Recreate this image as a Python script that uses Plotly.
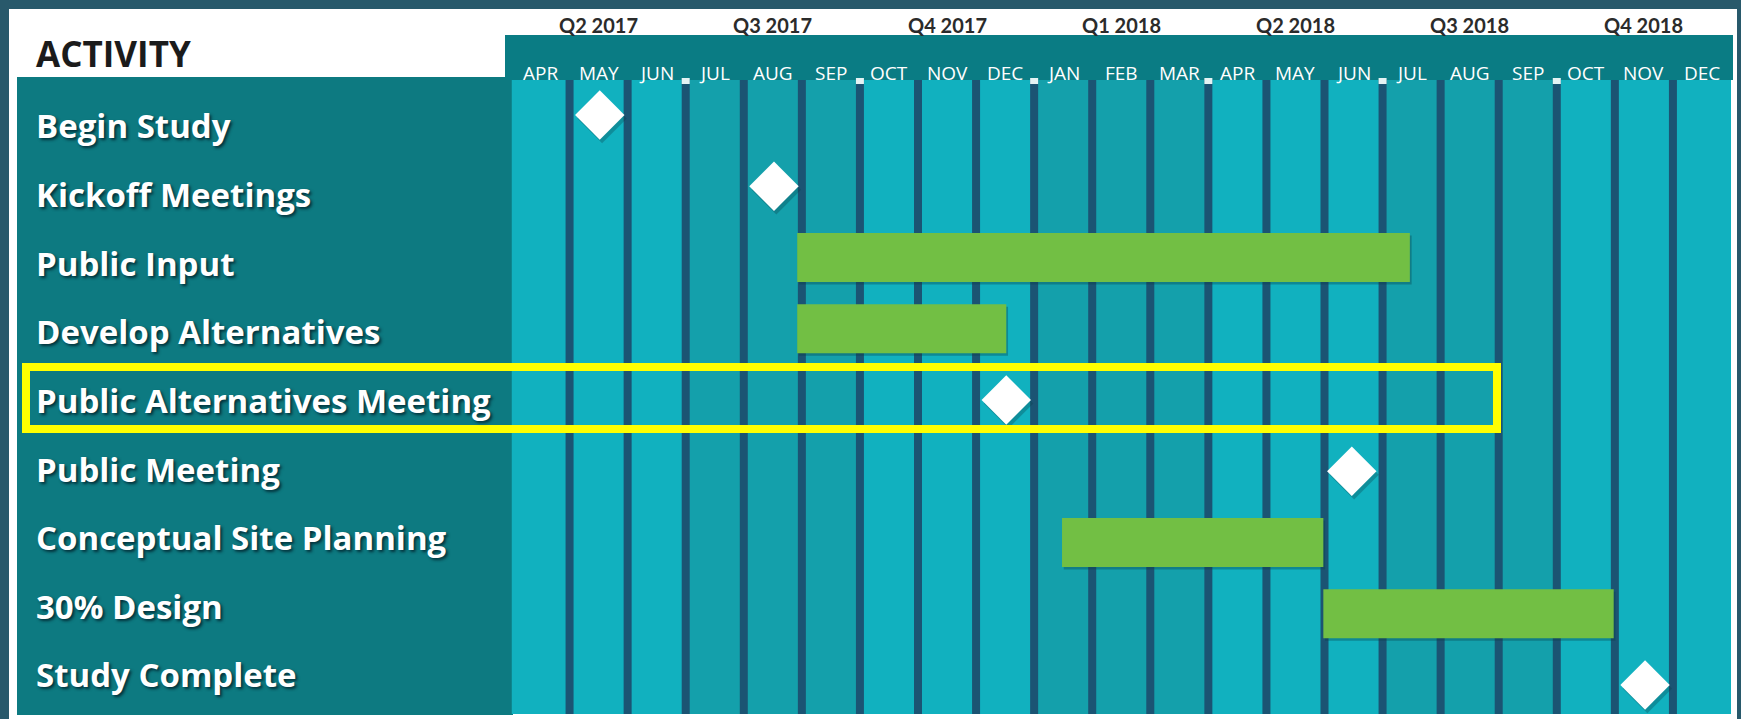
import plotly.graph_objects as go

# ---------------- data ----------------
activities = ["Begin Study", "Kickoff Meetings", "Public Input", "Develop Alternatives",
              "Public Alternatives Meeting", "Public Meeting", "Conceptual Site Planning",
              "30% Design", "Study Complete"]

# months counted from start of APR 2017 (0) to end of DEC 2018 (21)
month_labels = ["APR", "MAY", "JUN", "JUL", "AUG", "SEP", "OCT", "NOV", "DEC", "JAN", "FEB",
                "MAR", "APR", "MAY", "JUN", "JUL", "AUG", "SEP", "OCT", "NOV", "DEC"]
quarter_labels = ["Q2 2017", "Q3 2017", "Q4 2017", "Q1 2018", "Q2 2018", "Q3 2018", "Q4 2018"]

milestone_names = ["Begin Study", "Kickoff Meetings", "Public Alternatives Meeting",
                   "Public Meeting", "Study Complete"]
milestone_month = [1.52, 4.52, 8.52, 14.47, 19.52]

bar_names = ["Public Input", "Develop Alternatives", "Conceptual Site Planning", "30% Design"]
bar_start = [4.92, 4.92, 9.48, 13.98]
bar_end = [15.47, 8.52, 13.98, 18.98]

# ---------------- geometry / style ----------------
W, H = 1741, 719
PX_L, PX_R = 511.5, 1731.0      # plot area left/right (px)
PY_T, PY_B = 80.0, 714.0        # plot area top/bottom (px)
ROW0, ROWSTEP = 115.0, 71.25    # px centre of first mark row, row pitch

def fx(px):
    return px / W

def fy(py):
    return 1 - py / H

n_months = len(month_labels)
n_rows = len(activities)
y_top = -(ROW0 - PY_T) / ROWSTEP
y_bot = (n_rows - 1) + (PY_B - (ROW0 + (n_rows - 1) * ROWSTEP)) / ROWSTEP

BORDER = "#28596b"
PANEL = "#0d7a81"
HEADER = "#0a7c84"
COL_BRIGHT = "#11b1bf"
COL_DARK = "#14a0ab"
DIVIDER = "#1b5473"
GREEN = "#72bf44"

row_of = {a: i for i, a in enumerate(activities)}

fig = go.Figure()

# shadow bars (subtle)
fig.add_trace(go.Bar(
    orientation="h",
    y=[row_of[n] + 0.035 for n in bar_names],
    base=[s + 0.03 for s in bar_start],
    x=[e - s for s, e in zip(bar_start, bar_end)],
    width=0.69,
    marker=dict(color="rgba(10,60,70,0.35)", line=dict(width=0)),
    hoverinfo="skip", showlegend=False,
))
fig.add_trace(go.Bar(
    orientation="h",
    y=[row_of[n] for n in bar_names],
    base=bar_start,
    x=[e - s for s, e in zip(bar_start, bar_end)],
    width=0.69,
    marker=dict(color=GREEN, line=dict(width=0)),
    name="Task", showlegend=False,
))
# milestone shadows
fig.add_trace(go.Scatter(
    x=[m + 0.04 for m in milestone_month],
    y=[row_of[n] + 0.05 for n in milestone_names],
    mode="markers",
    marker=dict(symbol="diamond", size=38, color="rgba(10,60,70,0.30)", line=dict(width=0)),
    hoverinfo="skip", showlegend=False,
))
fig.add_trace(go.Scatter(
    x=milestone_month,
    y=[row_of[n] for n in milestone_names],
    mode="markers",
    marker=dict(symbol="diamond", size=38, color="white", line=dict(width=0)),
    name="Milestone", showlegend=False,
))

shapes = []
# white panel
shapes.append(dict(type="rect", xref="paper", yref="paper", x0=fx(9), x1=fx(1737),
                   y0=fy(725), y1=fy(9), fillcolor="white", line=dict(width=0), layer="below"))
# left activity panel
shapes.append(dict(type="rect", xref="paper", yref="paper", x0=fx(17), x1=fx(513),
                   y0=fy(715), y1=fy(77), fillcolor=PANEL, line=dict(width=0), layer="below"))
# header band
shapes.append(dict(type="rect", xref="paper", yref="paper", x0=fx(505), x1=fx(1733),
                   y0=fy(80), y1=fy(35), fillcolor=HEADER, line=dict(width=0), layer="below"))
# quarter colour bands
for q in range(len(quarter_labels)):
    shapes.append(dict(type="rect", xref="x", yref="paper", x0=3 * q, x1=min(3 * q + 3, n_months),
                       y0=fy(PY_B), y1=fy(PY_T),
                       fillcolor=COL_BRIGHT if q % 2 == 0 else COL_DARK,
                       line=dict(width=0), layer="below"))
# month dividers
for k in range(1, n_months):
    shapes.append(dict(type="line", xref="x", yref="paper", x0=k, x1=k,
                       y0=fy(PY_B), y1=fy(PY_T), line=dict(color=DIVIDER, width=8), layer="below"))
# quarter caps
for k in range(3, n_months, 3):
    shapes.append(dict(type="rect", xref="x", yref="paper", xsizemode="pixel", xanchor=k,
                       x0=-4, x1=4, y0=fy(84), y1=fy(78), fillcolor="#e4f3f4",
                       line=dict(width=0), layer="below"))
# highlight box
shapes.append(dict(type="rect", xref="paper", yref="paper", x0=fx(26), x1=fx(1497),
                   y0=fy(429), y1=fy(367), line=dict(color="#ffff00", width=8),
                   fillcolor="rgba(0,0,0,0)", layer="above"))

annotations = []
# ACTIVITY header
annotations.append(dict(text="ACTIVITY", xref="paper", yref="paper", x=fx(34), y=fy(54),
                        xanchor="left", yanchor="middle", showarrow=False,
                        font=dict(family="Open Sans", size=35, color="#1b1b1b", weight=700)))
# activity labels
for i, a in enumerate(activities):
    annotations.append(dict(text=a, xref="paper", yref="paper", x=fx(34), y=fy(126 + 68.6 * i),
                            xanchor="left", yanchor="middle", showarrow=False,
                            font=dict(family="Open Sans", size=33, color="white", weight=700,
                                      shadow="2px 2px 3px rgba(0,30,40,0.8)")))
# month labels
for i, m in enumerate(month_labels):
    annotations.append(dict(text=m, xref="x", yref="paper", x=i + 0.5, y=fy(73),
                            xanchor="center", yanchor="middle", showarrow=False,
                            font=dict(family="Open Sans", size=19, color="white")))
# quarter labels
for q, ql in enumerate(quarter_labels):
    annotations.append(dict(text=ql, xref="x", yref="paper", x=3 * q + 1.5, y=fy(25),
                            xanchor="center", yanchor="middle", showarrow=False,
                            font=dict(family="Lato", size=20, color="#2b2b2b", weight=700)))

fig.update_layout(
    width=W, height=H,
    margin=dict(l=0, r=0, t=0, b=0),
    paper_bgcolor=BORDER,
    plot_bgcolor="rgba(0,0,0,0)",
    barmode="overlay",
    shapes=shapes,
    annotations=annotations,
    xaxis=dict(domain=[fx(PX_L), fx(PX_R)], range=[0, n_months], showgrid=False,
               zeroline=False, showticklabels=False, ticks="", fixedrange=True),
    yaxis=dict(domain=[fy(PY_B), fy(PY_T)], range=[y_bot, y_top], showgrid=False,
               zeroline=False, showticklabels=False, ticks="", fixedrange=True),
    showlegend=False,
)

fig.write_html("out.html", config={"displayModeBar": False},
               post_script="document.body.style.margin='0px';document.body.style.overflow='hidden';")
